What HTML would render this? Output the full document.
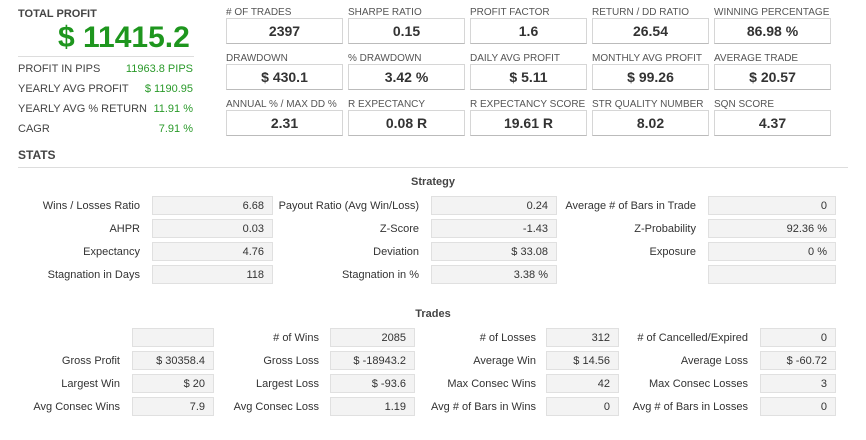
<!DOCTYPE html>
<html><head><meta charset="utf-8"><style>
body{margin:0;width:866px;height:440px;background:#fff;font-family:"Liberation Sans",Arial,sans-serif;color:#333;position:relative;overflow:hidden}
.a{position:absolute;white-space:nowrap}
.tl{font-size:10px;color:#555}
.tb{position:absolute;width:115px;height:24px;border:1px solid #d6d6d6;border-bottom-color:#bbb;font-weight:bold;font-size:14px;text-align:center;line-height:25px;color:#333}
.lb{position:absolute;font-size:11px;color:#333;text-align:right;line-height:20px}
.c{position:absolute;height:19px;background:#f3f3f3;border:1px solid #e0e0e0;font-size:11px;text-align:right;line-height:19px;box-sizing:border-box;padding-right:8px;color:#333}
.g{color:#2a9a2a;font-size:11px}
.s{font-size:11px;color:#444}
</style></head><body>
<div class="a" style="left:18px;top:8px;font-size:11px;font-weight:bold;color:#444">TOTAL PROFIT</div>
<div class="a" style="left:58px;top:21px;font-size:30px;font-weight:bold;color:#1e961e">$ 11415.2</div>
<div class="a" style="left:18px;top:56px;width:176px;border-top:1px solid #ddd"></div>
<div class="a s" style="left:18px;top:63px">PROFIT IN PIPS</div><div class="a g" style="right:673px;top:63px">11963.8 PIPS</div>
<div class="a s" style="left:18px;top:83px">YEARLY AVG PROFIT</div><div class="a g" style="right:673px;top:83px">$ 1190.95</div>
<div class="a s" style="left:18px;top:103px">YEARLY AVG % RETURN</div><div class="a g" style="right:673px;top:103px">11.91 %</div>
<div class="a s" style="left:18px;top:123px">CAGR</div><div class="a g" style="right:673px;top:123px">7.91 %</div>
<div class="a" style="left:18px;top:148px;font-size:12px;font-weight:bold;color:#444">STATS</div>
<div class="a" style="left:18px;top:167px;width:830px;border-top:1px solid #ddd"></div>

<div class="a tl" style="left:226px;top:7px">#&nbsp;OF TRADES</div><div class="tb" style="left:226px;top:18px">2397</div>
<div class="a tl" style="left:348px;top:7px">SHARPE RATIO</div><div class="tb" style="left:348px;top:18px">0.15</div>
<div class="a tl" style="left:470px;top:7px">PROFIT FACTOR</div><div class="tb" style="left:470px;top:18px">1.6</div>
<div class="a tl" style="left:592px;top:7px">RETURN / DD RATIO</div><div class="tb" style="left:592px;top:18px">26.54</div>
<div class="a tl" style="left:714px;top:7px">WINNING PERCENTAGE</div><div class="tb" style="left:714px;top:18px">86.98 %</div>

<div class="a tl" style="left:226px;top:53px">DRAWDOWN</div><div class="tb" style="left:226px;top:64px">$ 430.1</div>
<div class="a tl" style="left:348px;top:53px">% DRAWDOWN</div><div class="tb" style="left:348px;top:64px">3.42 %</div>
<div class="a tl" style="left:470px;top:53px">DAILY AVG PROFIT</div><div class="tb" style="left:470px;top:64px">$ 5.11</div>
<div class="a tl" style="left:592px;top:53px">MONTHLY AVG PROFIT</div><div class="tb" style="left:592px;top:64px">$ 99.26</div>
<div class="a tl" style="left:714px;top:53px">AVERAGE TRADE</div><div class="tb" style="left:714px;top:64px">$ 20.57</div>

<div class="a tl" style="left:226px;top:99px">ANNUAL % / MAX DD %</div><div class="tb" style="left:226px;top:110px">2.31</div>
<div class="a tl" style="left:348px;top:99px">R EXPECTANCY</div><div class="tb" style="left:348px;top:110px">0.08 R</div>
<div class="a tl" style="left:470px;top:99px">R EXPECTANCY SCORE</div><div class="tb" style="left:470px;top:110px">19.61 R</div>
<div class="a tl" style="left:592px;top:99px">STR QUALITY NUMBER</div><div class="tb" style="left:592px;top:110px">8.02</div>
<div class="a tl" style="left:714px;top:99px">SQN SCORE</div><div class="tb" style="left:714px;top:110px">4.37</div>

<div class="a" style="left:0;width:866px;text-align:center;top:176px;font-size:11px;font-weight:bold;color:#444">Strategy</div>

<div class="lb" style="right:726px;top:196px">Wins / Losses Ratio</div><div class="c" style="left:152px;width:121px;top:196px">6.68</div>
<div class="lb" style="right:447px;top:196px">Payout Ratio (Avg Win/Loss)</div><div class="c" style="left:431px;width:126px;top:196px">0.24</div>
<div class="lb" style="right:170px;top:196px">Average # of Bars in Trade</div><div class="c" style="left:708px;width:128px;top:196px">0</div>

<div class="lb" style="right:726px;top:219px">AHPR</div><div class="c" style="left:152px;width:121px;top:219px">0.03</div>
<div class="lb" style="right:447px;top:219px">Z-Score</div><div class="c" style="left:431px;width:126px;top:219px">-1.43</div>
<div class="lb" style="right:170px;top:219px">Z-Probability</div><div class="c" style="left:708px;width:128px;top:219px">92.36 %</div>

<div class="lb" style="right:726px;top:242px">Expectancy</div><div class="c" style="left:152px;width:121px;top:242px">4.76</div>
<div class="lb" style="right:447px;top:242px">Deviation</div><div class="c" style="left:431px;width:126px;top:242px">$ 33.08</div>
<div class="lb" style="right:170px;top:242px">Exposure</div><div class="c" style="left:708px;width:128px;top:242px">0 %</div>

<div class="lb" style="right:726px;top:265px">Stagnation in Days</div><div class="c" style="left:152px;width:121px;top:265px">118</div>
<div class="lb" style="right:447px;top:265px">Stagnation in %</div><div class="c" style="left:431px;width:126px;top:265px">3.38 %</div>
<div class="c" style="left:708px;width:128px;top:265px"></div>

<div class="a" style="left:0;width:866px;text-align:center;top:308px;font-size:11px;font-weight:bold;color:#444">Trades</div>

<div class="c" style="left:132px;width:82px;top:328px"></div>
<div class="lb" style="right:547px;top:328px"># of Wins</div><div class="c" style="left:330px;width:85px;top:328px">2085</div>
<div class="lb" style="right:330px;top:328px"># of Losses</div><div class="c" style="left:546px;width:73px;top:328px">312</div>
<div class="lb" style="right:548px;top:328px;right:548px;display:none"></div>
<div class="lb" style="right:118px;top:328px"># of Cancelled/Expired</div><div class="c" style="left:760px;width:76px;top:328px">0</div>

<div class="lb" style="right:746px;top:351px">Gross Profit</div><div class="c" style="left:132px;width:82px;top:351px">$ 30358.4</div>
<div class="lb" style="right:547px;top:351px">Gross Loss</div><div class="c" style="left:330px;width:85px;top:351px">$ -18943.2</div>
<div class="lb" style="right:330px;top:351px">Average Win</div><div class="c" style="left:546px;width:73px;top:351px">$ 14.56</div>
<div class="lb" style="right:118px;top:351px">Average Loss</div><div class="c" style="left:760px;width:76px;top:351px">$ -60.72</div>

<div class="lb" style="right:746px;top:374px">Largest Win</div><div class="c" style="left:132px;width:82px;top:374px">$ 20</div>
<div class="lb" style="right:547px;top:374px">Largest Loss</div><div class="c" style="left:330px;width:85px;top:374px">$ -93.6</div>
<div class="lb" style="right:330px;top:374px">Max Consec Wins</div><div class="c" style="left:546px;width:73px;top:374px">42</div>
<div class="lb" style="right:118px;top:374px">Max Consec Losses</div><div class="c" style="left:760px;width:76px;top:374px">3</div>

<div class="lb" style="right:746px;top:397px">Avg Consec Wins</div><div class="c" style="left:132px;width:82px;top:397px">7.9</div>
<div class="lb" style="right:547px;top:397px">Avg Consec Loss</div><div class="c" style="left:330px;width:85px;top:397px">1.19</div>
<div class="lb" style="right:330px;top:397px">Avg # of Bars in Wins</div><div class="c" style="left:546px;width:73px;top:397px">0</div>
<div class="lb" style="right:118px;top:397px">Avg # of Bars in Losses</div><div class="c" style="left:760px;width:76px;top:397px">0</div>
</body></html>
